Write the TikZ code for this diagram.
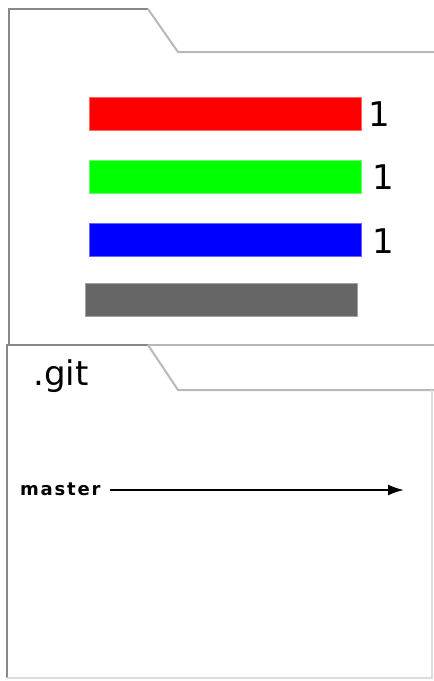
\documentclass[tikz,border=0pt]{standalone}
\usepackage{fontspec}
\setmainfont{DejaVu Sans}
\usepackage{tikz}
\usetikzlibrary{arrows.meta}

\definecolor{edgedark}{HTML}{888888}
\definecolor{edgelight}{HTML}{B8B8B8}
\definecolor{edgepale}{HTML}{DDDDDD}
\definecolor{barred}{HTML}{FF0000}
\definecolor{bargreen}{HTML}{00FF00}
\definecolor{barblue}{HTML}{0000FF}
\definecolor{bargray}{HTML}{666666}

\begin{document}
\begin{tikzpicture}[x=1pt,y=-1pt,
  bar/.style={draw=#1!60!white, fill=#1, line width=1pt, minimum width=272pt, minimum height=33pt, inner sep=0pt},
  count/.style={anchor=west, inner sep=0pt, font=\fontsize{34}{36}\selectfont},
  folderline/.style={line width=2pt, line join=miter}]
  \useasboundingbox (0,0) rectangle (434,681);
  % working tree folder
  \draw[folderline, edgedark] (9,345) -- (9,9) -- (148,9);
  \draw[folderline, edgelight] (148,9) -- (178,52) -- (434,52);
  \node[bar=barred] (red) at (225,113.5) {};
  \node[bar=bargreen] (green) at (225,177) {};
  \node[bar=barblue] (blue) at (225,240) {};
  \node[bar=bargray] (gray) at (221.5,300) {};
  \node[count] (c1) at (368,114) {1};
  \node[count] (c2) at (372,177) {1};
  \node[count] (c3) at (372,241) {1};
  % repository folder
  \draw[folderline, edgelight] (148,345) -- (434,345);
  \draw[folderline, edgedark] (7,678) -- (7,345) -- (148,345);
  \draw[folderline, edgelight] (148,345) -- (178,390) -- (434,390);
  \draw[folderline, edgepale] (432,390) -- (432,678) -- (7,678);
  \node[anchor=base west, inner sep=0pt, font=\fontsize{34}{36}\selectfont] (git) at (33,385) {.git};
  \node[anchor=west, inner sep=0pt, font=\fontsize{18}{20}\selectfont\bfseries\addfontfeature{LetterSpace=10}] (master) at (20,489) {master};
  \coordinate (tip) at (404,490);
  \draw[line width=2pt, -{Latex[length=16pt,width=11pt]}] ([xshift=9pt,yshift=-1pt]master.east) -- (tip);
\end{tikzpicture}
\end{document}
